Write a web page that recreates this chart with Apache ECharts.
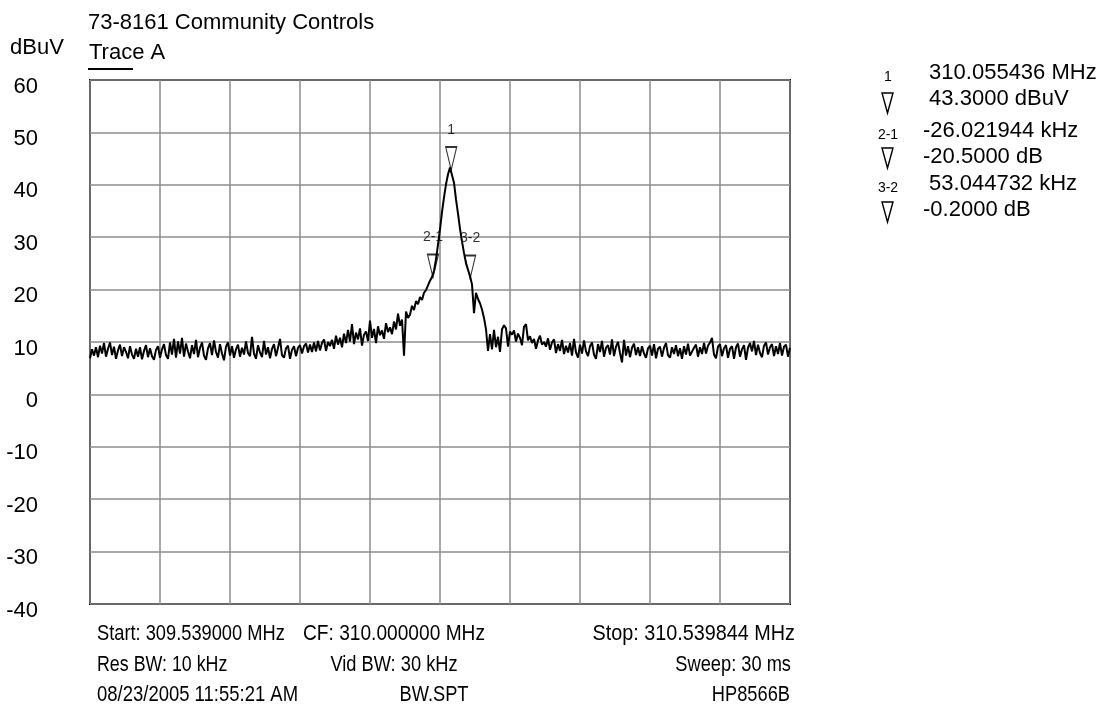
<!DOCTYPE html>
<html><head><meta charset="utf-8">
<script src="https://cdn.jsdelivr.net/npm/echarts/dist/echarts.min.js"></script>
<style>html,body{margin:0;padding:0;background:#fff}#c{width:1102px;height:706px}</style>
</head><body><div id="c"></div>
<script>
// ---- data ----
const startMHz = 309.539000;
const stopMHz = 310.539844;
const yMin = -40, yMax = 60, yStep = 10;
const traceA = [
6.9,8.6,7.4,9.0,7.1,9.3,7.8,9.8,7.2,8.7,
9.9,7.5,9.1,6.8,8.4,9.5,7.3,9.0,8.1,6.9,
9.2,7.6,6.8,8.7,7.2,9.0,6.7,8.3,9.4,7.1,
8.8,7.3,6.6,8.5,9.2,7.0,8.6,9.6,7.5,6.8,
9.9,7.6,10.6,7.0,10.1,7.8,10.8,7.2,9.7,8.2,
6.9,9.4,7.7,10.4,7.1,8.9,9.9,7.4,6.6,8.8,
9.8,7.5,10.3,8.1,7.0,9.6,7.8,6.5,9.1,9.9,
7.4,9.2,7.0,8.6,9.5,7.2,8.9,7.6,10.1,7.9,
7.3,11.0,7.8,6.8,9.4,8.0,7.1,10.2,7.6,9.0,
6.9,8.7,9.6,7.3,8.9,10.6,7.5,7.0,8.8,9.3,
6.8,8.5,9.2,7.3,8.9,9.4,7.8,9.2,9.7,8.0,
9.5,8.1,9.9,8.2,10.2,8.4,9.8,10.5,8.3,10.0,
9.2,10.4,8.7,11.2,9.5,10.8,9.0,11.6,9.8,12.3,
10.1,13.4,9.6,11.8,10.5,12.6,9.3,11.4,12.0,10.2,
14.1,10.8,12.5,9.8,13.0,11.3,12.2,10.6,13.6,11.9,
12.8,11.5,13.9,12.4,15.4,13.1,14.3,7.4,15.8,14.6,
15.2,16.9,16.1,17.8,17.2,18.6,18.0,19.4,19.9,20.8,
21.7,22.4,23.6,25.8,28.6,31.5,34.8,37.6,40.1,42.0,
43.3,43.1,40.4,37.2,34.5,31.6,29.2,27.0,25.0,23.8,
22.6,21.0,15.5,19.4,18.2,17.4,16.2,14.6,12.4,8.3,
11.5,8.6,12.3,9.0,11.0,8.1,12.4,13.2,12.6,9.1,
12.0,11.4,12.2,10.1,11.6,10.8,9.4,12.9,13.4,10.3,
11.1,9.8,10.6,8.7,10.3,11.2,9.5,10.0,9.1,10.7,
8.5,9.9,10.5,7.9,9.6,8.3,10.4,7.7,9.3,8.0,
9.8,7.4,10.6,8.0,7.0,9.5,7.8,10.3,8.2,7.3,
9.2,9.9,7.6,6.8,9.6,8.1,10.2,7.2,8.9,9.4,
7.6,10.5,7.3,9.1,10.0,7.9,6.1,10.4,7.4,9.2,
7.1,8.9,9.7,7.5,9.0,7.3,9.2,7.8,7.0,8.8,
9.3,7.4,9.6,6.9,8.7,9.1,7.2,8.9,9.8,7.5,
7.0,9.0,7.7,9.4,7.3,8.8,6.8,9.2,7.6,9.7,
7.4,7.1,8.9,9.5,7.2,9.0,7.7,9.8,7.8,9.3,
9.9,10.8,7.6,6.9,9.1,9.6,7.3,8.8,9.4,7.0,
8.7,9.2,6.8,9.0,9.7,7.2,8.6,9.4,6.6,8.9,
9.8,8.2,10.2,7.5,9.5,7.9,7.1,9.3,9.9,7.6,
9.0,9.6,7.3,9.2,7.7,9.8,7.4,9.1,9.5,7.2,8.9
];
const markerNames = ['1', '2-1', '3-2'];
const markerFreqMHz = [310.055436, 310.029414, 310.082459];
const markerLevel = [43.3, 22.8, 22.6];
const readoutLine1 = [' 310.055436 MHz', '-26.021944 kHz', ' 53.044732 kHz'];
const readoutLine2 = [' 43.3000 dBuV', '-20.5000 dB', '-0.2000 dB'];
const titleText = '73-8161 Community Controls';
const unitText = 'dBuV';
const traceName = 'Trace A';
const footerLeft = ['Start: 309.539000 MHz', 'Res BW: 10 kHz', '08/23/2005 11:55:21 AM'];
const footerMid = ['CF: 310.000000 MHz', 'Vid BW: 30 kHz', 'BW.SPT'];
const footerRight = ['Stop: 310.539844 MHz', 'Sweep: 30 ms', 'HP8566B'];

// ---- build ----
const spanK = (stopMHz - startMHz) * 1000;
const n = traceA.length;
const lineData = traceA.map((v, i) => [i * spanK / (n - 1), v]);
const markerData = markerNames.map((nm, i) => ({ name: nm, value: [(markerFreqMHz[i] - startMHz) * 1000, markerLevel[i]] }));

const FONT = '"Liberation Sans", Arial, Helvetica, sans-serif';
const G = [];
function txt(x, y, t, size, align, sx) {
  G.push({ type: 'text', x: x, y: y, scaleX: sx || 1, silent: true,
    style: { text: t, x: 0, y: 0, fill: '#000', font: size + 'px ' + FONT, textAlign: align || 'left', textVerticalAlign: 'middle' } });
}
txt(88, 23, titleText, 22);
txt(10, 48, unitText, 22);
txt(89, 53, traceName, 22);
G.push({ type: 'line', silent: true, shape: { x1: 88, y1: 69, x2: 133, y2: 69 }, style: { stroke: '#000', lineWidth: 2 } });

const rowY = [634, 665, 695];
const leftSX = [0.83, 0.81, 0.84];
const midX = [394, 394, 434];
const midSX = [0.87, 0.83, 0.83];
const rightX = [795, 791, 790];
const rightSX = [0.9, 0.83, 0.83];
for (let r = 0; r < 3; r++) {
  txt(97, rowY[r], footerLeft[r], 22, 'left', leftSX[r]);
  txt(midX[r], rowY[r], footerMid[r], 22, 'center', midSX[r]);
  txt(rightX[r], rowY[r], footerRight[r], 22, 'right', rightSX[r]);
}
const roY = [73, 131, 184];
const triTop = [93, 148, 202];
for (let k = 0; k < 3; k++) {
  const y0 = roY[k];
  txt(888, y0 + 4, markerNames[k], 14, 'center');
  txt(923, y0, readoutLine1[k], 22, 'left');
  txt(923, y0 + 26, readoutLine2[k], 22, 'left');
  const t = triTop[k];
  G.push({ type: 'polygon', silent: true, shape: { points: [[882, t], [893, t], [887.5, t + 20]] },
    style: { fill: 'none', stroke: '#000', lineWidth: 1.4 } });
}

const chart = echarts.init(document.getElementById('c'), null, { renderer: 'canvas' });
chart.setOption({
  animation: false,
  backgroundColor: '#fff',
  grid: { left: 90, right: 312, top: 80, bottom: 102, show: true, borderColor: '#000', borderWidth: 2, backgroundColor: 'transparent' },
  xAxis: {
    type: 'value', min: 0, max: spanK, interval: spanK / 10,
    axisLine: { show: false }, axisTick: { show: false }, axisLabel: { show: false },
    splitLine: { show: true, lineStyle: { color: '#8c8c8c', width: 1.5 } }
  },
  yAxis: {
    type: 'value', min: yMin, max: yMax, interval: yStep,
    axisLine: { show: false }, axisTick: { show: false },
    axisLabel: { show: true, color: '#000', fontSize: 22, fontFamily: FONT, margin: 52, verticalAlign: 'top', lineHeight: 13 },
    splitLine: { show: true, lineStyle: { color: '#8c8c8c', width: 1.5 } }
  },
  series: [
    { type: 'line', data: lineData, showSymbol: false, symbol: 'none', silent: true,
      lineStyle: { color: '#000', width: 2 }, z: 3 },
    { type: 'scatter', data: markerData, symbol: 'path://M0,0L10,0L5,20Z', symbolSize: [11, 23], symbolOffset: [0, -9],
      itemStyle: { color: 'rgba(0,0,0,0)', borderColor: '#000', borderWidth: 1.4 }, silent: true, z: 4,
      label: { show: true, position: 'top', distance: 9, formatter: '{b}', color: '#000', fontSize: 14, fontFamily: FONT } }
  ],
  graphic: G
});
</script></body></html>
